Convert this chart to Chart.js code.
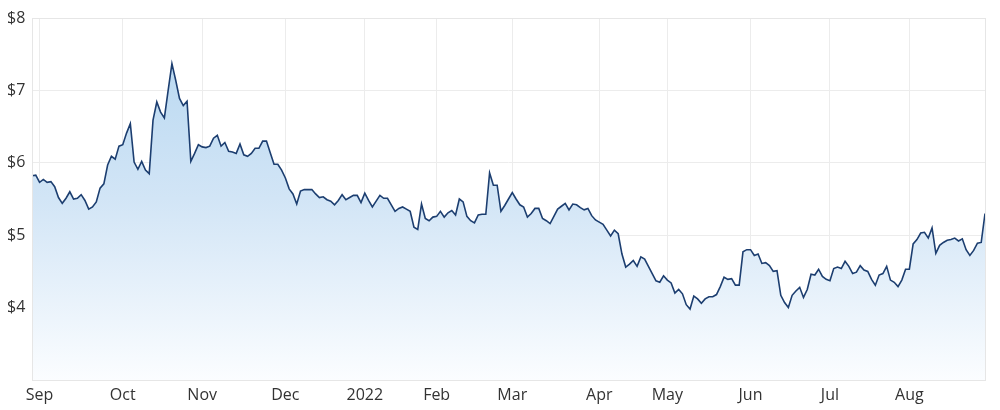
<!DOCTYPE html>
<html>
<head>
<meta charset="utf-8">
<script src="https://cdn.jsdelivr.net/npm/chart.js@4.4.1/dist/chart.umd.min.js"></script>
<style>
  html, body { margin: 0; padding: 0; background: #ffffff; }
  #wrap { width: 1000px; height: 410px; position: relative; }
</style>
</head>
<body>
<div id="wrap"><canvas id="c"></canvas></div>
<script>
// ASX trading days, 30 Aug 2021 – 29 Aug 2022
const startDate = '2021-08-30';
const endDate = '2022-08-29';
const holidays = ['2021-12-27','2021-12-28','2022-01-03','2022-01-26','2022-04-15','2022-04-18','2022-04-25','2022-06-13'];

// Month tick labels (first trading day of each month)
const monthLabels = ['Sep','Oct','Nov','Dec','2022','Feb','Mar','Apr','May','Jun','Jul','Aug'];

// Closing price (AUD)
const prices = [
  5.82,5.83,5.73,5.77,5.73,5.74,5.67,5.52,5.44,5.51,
  5.60,5.50,5.51,5.56,5.48,5.36,5.39,5.46,5.65,5.71,
  5.97,6.09,6.05,6.23,6.25,6.41,6.54,6.01,5.91,6.02,
  5.90,5.85,6.59,6.84,6.70,6.62,7.00,7.37,7.14,6.89,
  6.79,6.85,6.02,6.13,6.25,6.22,6.21,6.23,6.34,6.38,
  6.23,6.28,6.16,6.15,6.13,6.26,6.11,6.09,6.13,6.20,
  6.20,6.30,6.30,6.14,5.98,5.98,5.90,5.79,5.64,5.57,
  5.43,5.61,5.63,5.63,5.63,5.57,5.52,5.53,5.49,5.47,
  5.42,5.48,5.56,5.49,5.52,5.55,5.55,5.45,5.58,5.48,
  5.39,5.47,5.55,5.51,5.51,5.42,5.33,5.37,5.39,5.36,
  5.33,5.11,5.08,5.43,5.23,5.20,5.25,5.26,5.33,5.25,
  5.31,5.34,5.28,5.50,5.46,5.26,5.20,5.17,5.28,5.29,
  5.29,5.86,5.69,5.69,5.33,5.41,5.50,5.59,5.50,5.42,
  5.39,5.25,5.30,5.37,5.37,5.23,5.20,5.16,5.26,5.36,
  5.40,5.44,5.35,5.43,5.42,5.38,5.35,5.37,5.27,5.21,
  5.18,5.15,5.07,4.99,5.07,5.02,4.74,4.56,4.60,4.65,
  4.57,4.70,4.67,4.57,4.47,4.37,4.35,4.44,4.38,4.34,
  4.20,4.25,4.19,4.04,3.98,4.16,4.12,4.06,4.12,4.15,
  4.15,4.18,4.29,4.42,4.39,4.40,4.31,4.31,4.77,4.80,
  4.80,4.72,4.74,4.61,4.62,4.58,4.50,4.51,4.17,4.07,
  4.00,4.17,4.23,4.28,4.14,4.25,4.46,4.45,4.53,4.43,
  4.39,4.37,4.54,4.56,4.54,4.64,4.57,4.47,4.49,4.58,
  4.52,4.50,4.39,4.31,4.45,4.47,4.57,4.38,4.35,4.29,
  4.38,4.53,4.53,4.88,4.94,5.03,5.04,4.96,5.10,4.75,
  4.86,4.90,4.93,4.94,4.96,4.92,4.95,4.80,4.72,4.79,
  4.89,4.90,5.30
];

const yMin = 3, yMax = 8, yStep = 1;

// Build trading-day categories
function pad(n){ return n < 10 ? '0' + n : '' + n; }
const dates = [];
{
  const d = new Date(startDate + 'T00:00:00Z');
  const end = new Date(endDate + 'T00:00:00Z');
  while (d <= end) {
    const s = d.getUTCFullYear() + '-' + pad(d.getUTCMonth() + 1) + '-' + pad(d.getUTCDate());
    const wd = d.getUTCDay();
    if (wd !== 0 && wd !== 6 && !holidays.includes(s)) dates.push(s);
    d.setUTCDate(d.getUTCDate() + 1);
  }
}
// first trading day of each month after the start
const tickIndexToLabel = {};
{
  let k = 0;
  for (let i = 1; i < dates.length; i++) {
    if (dates[i].slice(0, 7) !== dates[i - 1].slice(0, 7) && k < monthLabels.length) {
      tickIndexToLabel[i] = monthLabels[k++];
    }
  }
}

const borderPlugin = {
  id: 'areaBorder',
  afterDraw(chart) {
    const a = chart.chartArea, ctx = chart.ctx;
    ctx.save();
    ctx.strokeStyle = '#e6e6e6';
    ctx.lineWidth = 1;
    ctx.strokeRect(Math.round(a.left) + 0.5, Math.round(a.top) + 0.5, Math.round(a.right - a.left), Math.round(a.bottom - a.top));
    ctx.restore();
  }
};

const ctx = document.getElementById('c').getContext('2d');
new Chart(ctx, {
  type: 'line',
  data: {
    labels: dates,
    datasets: [{
      data: prices,
      borderColor: '#1c3e70',
      borderWidth: 1.6,
      pointRadius: 0,
      tension: 0,
      fill: 'start',
      backgroundColor: (c) => {
        const a = c.chart.chartArea;
        if (!a) return 'rgba(190,220,243,0.9)';
        const g = c.chart.ctx.createLinearGradient(0, a.top, 0, a.bottom);
        g.addColorStop(0, 'rgb(180,214,240)');
        g.addColorStop(0.5, 'rgb(210,229,246)');
        g.addColorStop(1, 'rgb(251,253,255)');
        return g;
      }
    }]
  },
  options: {
    responsive: true,
    maintainAspectRatio: false,
    animation: false,
    layout: { padding: { left: 7, right: 15, top: 18, bottom: 0 } },
    plugins: { legend: { display: false }, tooltip: { enabled: false } },
    scales: {
      x: {
        type: 'category',
        offset: false,
        afterBuildTicks: (axis) => {
          axis.ticks = axis.ticks.filter(t => tickIndexToLabel[t.value] !== undefined);
        },
        afterFit: (s) => { s.height = 30; },
        grid: { color: '#ececec', drawTicks: false },
        border: { display: false },
        ticks: {
          autoSkip: false,
          maxRotation: 0,
          padding: 6,
          color: '#333333',
          font: { family: 'Open Sans', size: 16 },
          callback: (v) => tickIndexToLabel[v] || ''
        }
      },
      y: {
        min: yMin,
        max: yMax,
        afterFit: (s) => { s.width = 25; },
        grid: { color: '#ececec', drawTicks: false },
        border: { display: false },
        ticks: {
          stepSize: yStep,
          padding: 0,
          crossAlign: 'far',
          color: '#333333',
          font: { family: 'Open Sans', size: 16 },
          callback: (v) => v === yMin ? '' : '$' + v
        }
      }
    }
  },
  plugins: [borderPlugin]
});
</script>
</body>
</html>
